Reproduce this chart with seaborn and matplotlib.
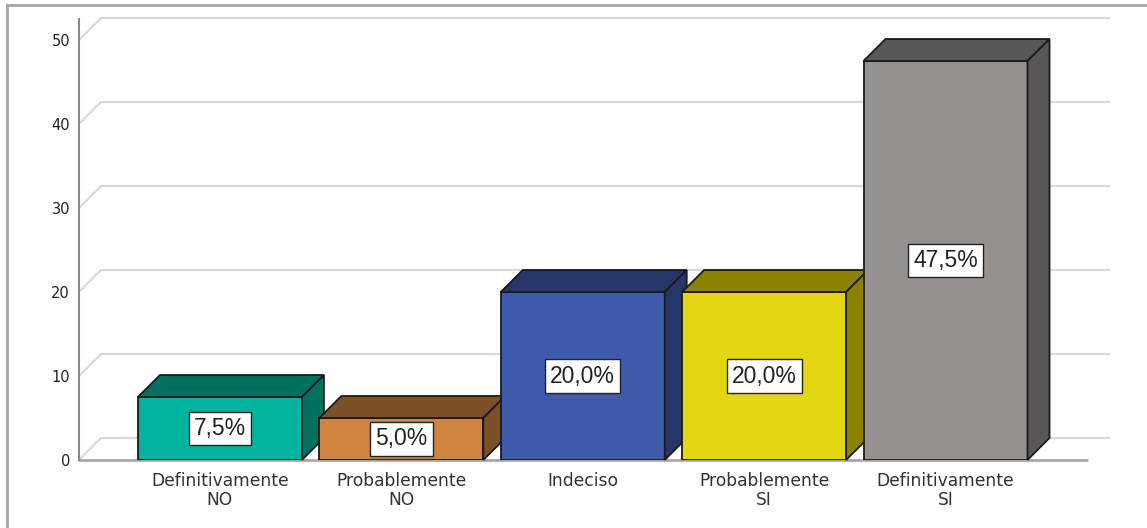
import matplotlib
matplotlib.use("Agg")
import matplotlib.pyplot as plt
from matplotlib.patches import Polygon, Rectangle
from matplotlib.lines import Line2D
import seaborn as sns
import pandas as pd

categories = ["Definitivamente\nNO", "Probablemente\nNO", "Indeciso",
              "Probablemente\nSI", "Definitivamente\nSI"]
values = [7.5, 5.0, 20.0, 20.0, 47.5]
front_colors = ["#00B4A0", "#CD853F", "#3F5AAA", "#E2D712", "#95918F"]
side_colors = ["#00705F", "#7D5128", "#253668", "#8C8200", "#5A5857"]
yticks = [0, 10, 20, 30, 40, 50]

W, H = 1147, 528
DPI = 100
sns.set_theme(style="white")
plt.rcParams["font.family"] = ["DejaVu Sans"]

fig = plt.figure(figsize=(W / DPI, H / DPI), dpi=DPI)
ax = fig.add_axes([79 / W, (H - 460) / H, (1087 - 79) / W, (460 - 19) / H])

df = pd.DataFrame({"cat": categories, "val": values})
sns.barplot(data=df, x="cat", y="val", hue="cat", palette=front_colors,
            legend=False, width=0.904, edgecolor="#1a1a1a", linewidth=1.3,
            saturation=1, ax=ax)

xmin, xmax = -0.777, 4.78
ymin, ymax = 0, 52.5
ax.set_xlim(xmin, xmax)
ax.set_ylim(ymin, ymax)

# depth offset of 22 px converted into data units
DEPTH = 22
ax_w_px = (1087 - 79)
ax_h_px = (460 - 19)
dx = DEPTH * (xmax - xmin) / ax_w_px
dy = DEPTH * (ymax - ymin) / ax_h_px

# back wall grid lines with perspective diagonals
for v in yticks:
    ax.add_line(Line2D([xmin, xmin + dx, xmax + dx], [v, v + dy, v + dy],
                       color="#d9d9d9", lw=1.6, zorder=0.5, clip_on=False))
# front baseline
ax.add_line(Line2D([xmin, xmax], [0, 0], color="#a8a8a8", lw=2,
                   zorder=0.6, clip_on=False))

# 3D faces on bars
for i, p in enumerate(ax.patches[:len(values)]):
    x0, w, h = p.get_x(), p.get_width(), p.get_height()
    z = 2 + i * 0.1
    p.set_zorder(z)
    top = Polygon([(x0, h), (x0 + w, h), (x0 + w + dx, h + dy), (x0 + dx, h + dy)],
                  closed=True, facecolor=side_colors[i], edgecolor="#1a1a1a",
                  lw=1.3, zorder=z, clip_on=False)
    side = Polygon([(x0 + w, 0), (x0 + w + dx, dy), (x0 + w + dx, h + dy), (x0 + w, h)],
                   closed=True, facecolor=side_colors[i], edgecolor="#1a1a1a",
                   lw=1.3, zorder=z, clip_on=False)
    ax.add_patch(top)
    ax.add_patch(side)
    lbl = f"{values[i]:.1f}".replace(".", ",") + "%"
    ax.text(x0 + w / 2, h / 2, lbl, ha="center", va="center", fontsize=16.5,
            family=["Liberation Sans", "DejaVu Sans"], color="#222222",
            zorder=z + 0.05,
            bbox=dict(boxstyle="square,pad=0.22", facecolor="white",
                      edgecolor="#222222", lw=1.0))

for s in ["top", "right", "bottom"]:
    ax.spines[s].set_visible(False)
ax.spines["left"].set_color("#8a8a8a")
ax.spines["left"].set_linewidth(1.5)
ax.spines["left"].set_zorder(3)

ax.set_yticks(yticks)
ax.set_yticklabels([str(t) for t in yticks])
ax.tick_params(axis="y", length=0, pad=6.5, labelsize=10.5, labelcolor="#222222")
ax.tick_params(axis="x", length=0, pad=8.5, labelsize=12.3, labelcolor="#333333")
for t in ax.get_xticklabels():
    t.set_linespacing(1.05)
ax.set_xlabel("")
ax.set_ylabel("")
ax.grid(False)
ax.set_facecolor("none")

# outer frame (left and top edges visible)
fig.add_artist(Rectangle((7 / W, -0.05), 1.2, (H - 5) / H + 0.05,
                         transform=fig.transFigure, fill=False,
                         edgecolor="#a6a6a6", lw=2))

fig.savefig("out.png", dpi=DPI)
